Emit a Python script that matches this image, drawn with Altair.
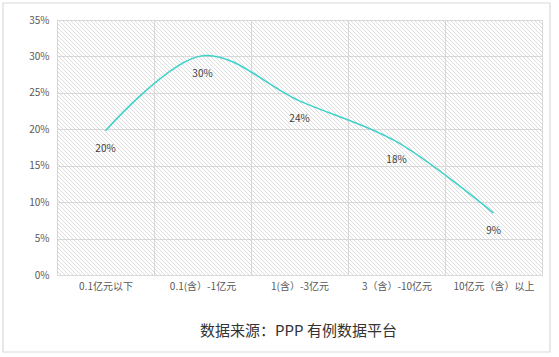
import altair as alt
import pandas as pd

categories = ["0.1亿元以下", "0.1(含）-1亿元", "1(含）-3亿元", "3（含）-10亿元", "10亿元（含）以上"]
shares = [19.8, 30.1, 23.9, 18.3, 8.5]
labels = ["20%", "30%", "24%", "18%", "9%"]
y_ticks = [0, 5, 10, 15, 20, 25, 30, 35]
source_text = "数据来源：PPP 有例数据平台"

W, H = 485, 255
FONT = "Noto Sans CJK SC"

df = pd.DataFrame({"cat": categories, "v": shares, "lab": labels})

# decorative diagonal hatch for plot background
hatch = (
    alt.Chart(alt.sequence(0, (W + H) // 4 + 2, as_="k"))
    .transform_calculate(xa="datum.k * 4 - 255", xb="datum.k * 4", ya="0", yb="255")
    .mark_rule(stroke="#d3d3d3", strokeWidth=0.8, clip=True)
    .encode(
        x=alt.X("xa:Q", scale=None, axis=None),
        x2="xb:Q",
        y=alt.Y("ya:Q", scale=None, axis=None),
        y2="yb:Q",
    )
)

xenc = alt.X(
    "cat:N",
    sort=categories,
    title=None,
    scale=alt.Scale(paddingInner=0, paddingOuter=0),
    axis=alt.Axis(
        labelAngle=0, tickBand="extent", grid=True, gridColor="#d9d9d9", domain=False,
        ticks=False, labelColor="#595959", labelFontSize=10, labelFont=FONT,
        labelPadding=6,
    ),
)
yenc = alt.Y(
    "v:Q",
    title=None,
    scale=alt.Scale(domain=[0, 35], nice=False),
    axis=alt.Axis(
        values=y_ticks, labelExpr="datum.value + '%'", grid=True, gridColor="#d9d9d9",
        domain=False, ticks=False, labelColor="#595959", labelFontSize=10,
        labelFont=FONT, labelPadding=8, labelOverlap=False,
    ),
)

base = alt.Chart(df)
line = base.mark_line(interpolate="catmull-rom", color="#3fd1cb", strokeWidth=1.6).encode(x=xenc, y=yenc)
text = base.mark_text(dy=18, fontSize=10, font=FONT, color="#404040").encode(
    x=xenc, y=yenc, text="lab:N"
)

src = (
    alt.Chart(pd.DataFrame({"t": [source_text]}))
    .mark_text(fontSize=15, font=FONT, color="#333333", align="center", baseline="middle")
    .encode(x=alt.value(W / 2 - 1), y=alt.value(311), text="t:N")
)

border = (
    alt.Chart(pd.DataFrame({"t": [0]}))
    .mark_rect(fill=None, stroke="#d9d9d9", strokeWidth=1.2)
    .encode(x=alt.value(-54), x2=alt.value(493), y=alt.value(-17), y2=alt.value(332))
)

main = alt.layer(line, text, src, border)

chart = (
    alt.layer(hatch, main)
    .resolve_scale(x="independent", y="independent")
    .properties(
        width=W, height=H,
        autosize=alt.AutoSizeParams(type="none"),
        padding={"left": 57, "top": 20, "right": 17, "bottom": 82},
        background="white",
    )
    .configure_view(stroke="#d9d9d9", strokeWidth=1)
)

chart.save("out.html", embed_options={"renderer": "svg", "actions": False})
